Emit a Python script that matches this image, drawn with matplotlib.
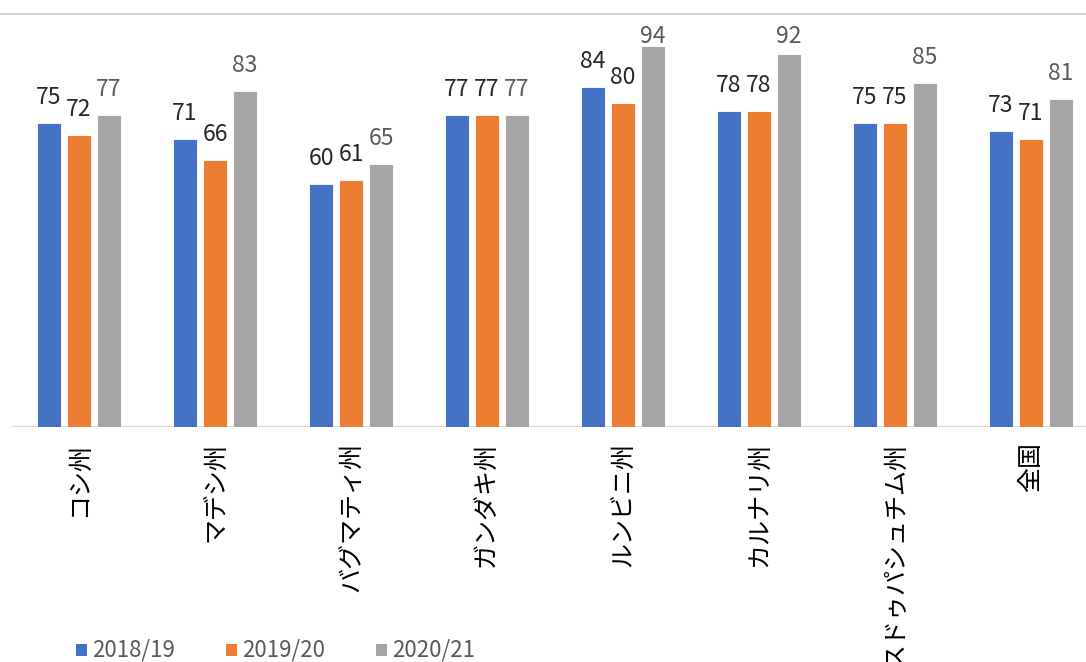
import matplotlib
matplotlib.use("Agg")
import matplotlib.pyplot as plt
from matplotlib.patches import Rectangle
from matplotlib.lines import Line2D
import matplotlib.transforms as mtransforms
import numpy as np

plt.rcParams['font.family'] = ['Noto Sans CJK JP', 'DejaVu Sans']

# Provinces and national total
categories = ["コシ州", "マデシ州", "バグマティ州", "ガンダキ州",
              "ルンビニ州", "カルナリ州", "スドゥパシュチム州", "全国"]
series_names = ["2018/19", "2019/20", "2020/21"]
values_1819 = [75, 71, 60, 77, 84, 78, 75, 73]
values_1920 = [72, 66, 61, 77, 80, 78, 75, 71]
values_2021 = [77, 83, 65, 77, 94, 92, 85, 81]

series_values = [values_1819, values_1920, values_2021]
bar_colors = ["#4472C4", "#ED7D31", "#A5A5A5"]
label_colors = ["#262626", "#262626", "#595959"]

W, H = 1086, 662
fig = plt.figure(figsize=(W / 100, H / 100), dpi=100)
fig.patch.set_facecolor("white")

# plot area in pixel coordinates
left_px, right_px, top_px, bottom_px = 11, 1099, 22, 427
ax = fig.add_axes([left_px / W, 1 - bottom_px / H,
                   (right_px - left_px) / W, (bottom_px - top_px) / H])
ax.set_xlim(-0.5, len(categories) - 0.5)
ax.set_ylim(0, 100)
for s in ax.spines.values():
    s.set_visible(False)
ax.set_xticks([])
ax.set_yticks([])
ax.patch.set_alpha(0)

px_per_unit = (bottom_px - top_px) / 100.0
label_gap = 19 / px_per_unit          # gap between bar top and label baseline
label_cap = (bottom_px - 43) / px_per_unit  # labels kept inside the chart area

x = np.arange(len(categories))
pitch = 30 / 136
width = 24 / 136
for i, (vals, col, lcol) in enumerate(zip(series_values, bar_colors, label_colors)):
    xs = x + (i - 1) * pitch
    ax.bar(xs, vals, width=width, color=col, edgecolor="white",
           linewidth=0.6, zorder=2)
    for xi, v in zip(xs, vals):
        ax.text(xi, min(v + label_gap, label_cap), str(v), ha="center",
                va="baseline", fontsize=16.5, color=lcol, zorder=3)

# category axis line
ax.axhline(0, color="#D9D9D9", linewidth=1.6, zorder=1)

# category labels, rotated
trans = mtransforms.blended_transform_factory(ax.transData, ax.transAxes)
off = mtransforms.ScaledTranslation(0, -15 / 100, fig.dpi_scale_trans)
for xi, name in zip(x, categories):
    ax.text(xi, 0, name, rotation=90, ha="center", va="top", fontsize=18,
            color="black", transform=trans + off, clip_on=False)

# chart top border
fig.add_artist(Line2D([0, 1], [1 - 14 / H, 1 - 14 / H], color="#C8C8C8",
                      linewidth=1.2, transform=fig.transFigure))

# legend along the bottom
leg_y = 650
for i, (name, col) in enumerate(zip(series_names, bar_colors)):
    sx = 76 + i * 150
    fig.add_artist(Rectangle((sx / W, 1 - (leg_y + 6) / H), 11 / W, 12 / H,
                             facecolor=col, edgecolor="none",
                             transform=fig.transFigure))
    fig.text((sx + 16) / W, 1 - leg_y / H, name, ha="left", va="center",
             fontsize=16, color="#595959")

fig.savefig("out.png", dpi=100, facecolor="white")
